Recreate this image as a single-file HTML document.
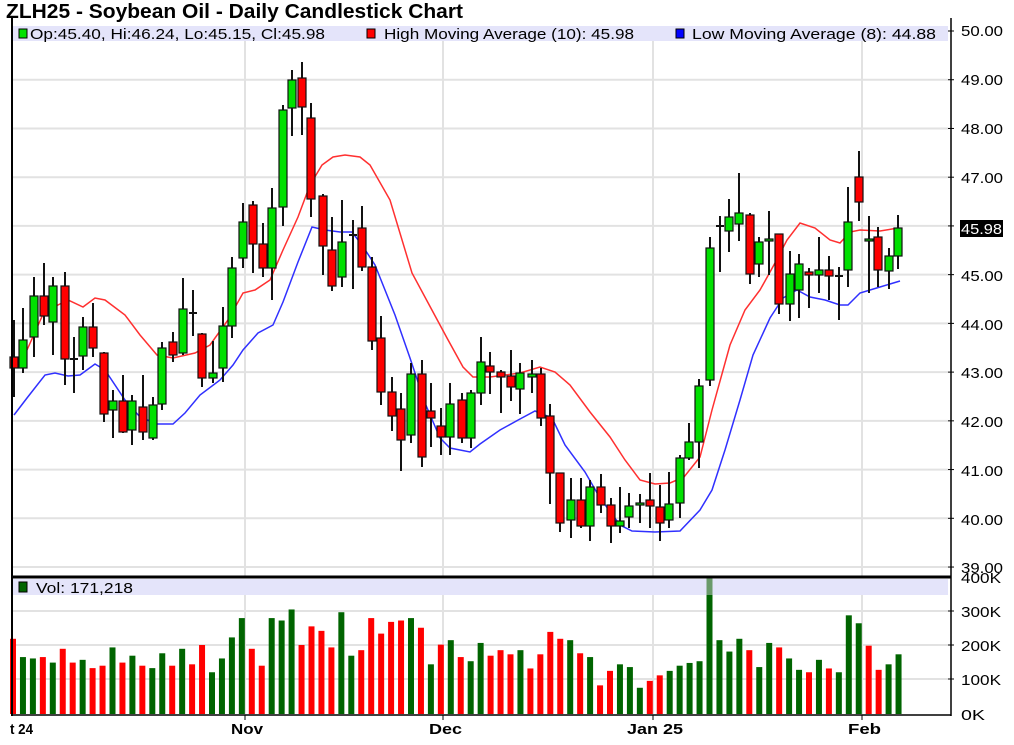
<!DOCTYPE html>
<html><head><meta charset="utf-8"><style>
html,body{margin:0;padding:0;background:#fff;width:1014px;height:745px;overflow:hidden}
svg{display:block;font-family:"Liberation Sans",sans-serif}
</style></head><body>
<svg id="s" width="1014" height="745" xmlns="http://www.w3.org/2000/svg">
<rect width="1014" height="745" fill="#fff"/>
<g id="grid" stroke="#e2e2e2" stroke-width="2"></g>
<rect x="13" y="26" width="935" height="15" fill="#e4e4fa"/>
<rect x="13" y="579" width="935" height="16" fill="#e4e4fa"/>
<g id="ma" fill="none" stroke-width="1.5"></g>
<g id="candles"></g>
<g id="vol"></g>
<line x1="12" y1="18" x2="12" y2="716" stroke="#000" stroke-width="2"/>
<line x1="951" y1="18" x2="951" y2="716" stroke="#000" stroke-width="1.5"/>
<line x1="12" y1="577" x2="951" y2="577" stroke="#000" stroke-width="3"/>
<line x1="12" y1="715" x2="951" y2="715" stroke="#000" stroke-width="1.5"/>
<g id="ticks" stroke="#000" stroke-width="1"></g>
<text x="6" y="18" font-size="20" font-weight="bold" fill="#000" textLength="457" lengthAdjust="spacingAndGlyphs">ZLH25 - Soybean Oil - Daily Candlestick Chart</text>
<rect x="19" y="29" width="8" height="9" fill="#00e000" stroke="#000"/>
<text x="30" y="39" font-size="15" fill="#000" textLength="295" lengthAdjust="spacingAndGlyphs">Op:45.40, Hi:46.24, Lo:45.15, Cl:45.98</text>
<rect x="367" y="29" width="8" height="9" fill="#ff0000" stroke="#000"/>
<text x="384" y="39" font-size="15" fill="#000" textLength="250" lengthAdjust="spacingAndGlyphs">High Moving Average (10): 45.98</text>
<rect x="676" y="29" width="8" height="9" fill="#0000ff" stroke="#000"/>
<text x="692" y="39" font-size="15" fill="#000" textLength="244" lengthAdjust="spacingAndGlyphs">Low Moving Average (8): 44.88</text>
<rect x="19" y="582" width="8" height="10" fill="#006400" stroke="#000"/>
<text x="36" y="593" font-size="15" fill="#000" textLength="97" lengthAdjust="spacingAndGlyphs">Vol: 171,218</text>
<g font-size="15" fill="#000" id="ax">
<text x="961" y="36" textLength="42" lengthAdjust="spacingAndGlyphs">50.00</text>
<text x="961" y="85" textLength="42" lengthAdjust="spacingAndGlyphs">49.00</text>
<text x="961" y="134" textLength="42" lengthAdjust="spacingAndGlyphs">48.00</text>
<text x="961" y="183" textLength="42" lengthAdjust="spacingAndGlyphs">47.00</text>
<text x="961" y="281" textLength="42" lengthAdjust="spacingAndGlyphs">45.00</text>
<text x="961" y="330" textLength="42" lengthAdjust="spacingAndGlyphs">44.00</text>
<text x="961" y="378" textLength="42" lengthAdjust="spacingAndGlyphs">43.00</text>
<text x="961" y="427" textLength="42" lengthAdjust="spacingAndGlyphs">42.00</text>
<text x="961" y="476" textLength="42" lengthAdjust="spacingAndGlyphs">41.00</text>
<text x="961" y="525" textLength="42" lengthAdjust="spacingAndGlyphs">40.00</text>
<text x="961" y="573" textLength="42" lengthAdjust="spacingAndGlyphs">39.00</text>
<text x="961" y="583" textLength="40" lengthAdjust="spacingAndGlyphs">400K</text>
<text x="961" y="617" textLength="40" lengthAdjust="spacingAndGlyphs">300K</text>
<text x="961" y="651" textLength="40" lengthAdjust="spacingAndGlyphs">200K</text>
<text x="961" y="685" textLength="40" lengthAdjust="spacingAndGlyphs">100K</text>
<text x="961" y="720" textLength="24" lengthAdjust="spacingAndGlyphs">0K</text>
</g>
<rect x="960" y="220" width="43" height="17" fill="#000"/>
<text x="961" y="234" font-size="15" fill="#fff" textLength="41" lengthAdjust="spacingAndGlyphs">45.98</text>
<g font-size="15" font-weight="bold" fill="#000">
<text x="10" y="734" textLength="23" lengthAdjust="spacingAndGlyphs">t 24</text>
<text x="231" y="734" textLength="32" lengthAdjust="spacingAndGlyphs">Nov</text>
<text x="429" y="734" textLength="33" lengthAdjust="spacingAndGlyphs">Dec</text>
<text x="627" y="734" textLength="56" lengthAdjust="spacingAndGlyphs">Jan 25</text>
<text x="848" y="734" textLength="33" lengthAdjust="spacingAndGlyphs">Feb</text>
</g>
</svg>
<script>
var NS="http://www.w3.org/2000/svg";
function el(p,t,a){var e=document.createElementNS(NS,t);for(var k in a)e.setAttribute(k,a[k]);document.getElementById(p).appendChild(e);return e;}
for(var k=0;k<=11;k++){var y=31+48.73*k;el("grid","line",{x1:13,y1:y,x2:948,y2:y});el("ticks","line",{x1:948,y1:y,x2:954,y2:y});}
[611,645,679].forEach(function(y){el("grid","line",{x1:13,y1:y,x2:948,y2:y});el("ticks","line",{x1:948,y1:y,x2:954,y2:y});});
[245,443,653,862].forEach(function(x){el("grid","line",{x1:x,y1:41,x2:x,y2:576});el("grid","line",{x1:x,y1:595,x2:x,y2:714});el("ticks","line",{x1:x,y1:715,x2:x,y2:720});});
var red=[[27,350],[44,312],[68,300],[83,307],[95,298],[105,300],[125,315],[140,335],[157,355],[173,358],[195,353],[210,345],[228,320],[243,293],[255,290],[270,280],[283,250],[298,217],[310,185],[322,165],[333,157],[345,155],[360,157],[370,165],[390,200],[412,273],[433,312],[447,338],[463,367],[473,377],[490,377],[520,373],[540,367],[555,372],[570,385],[590,412],[610,437],[625,460],[640,480],[655,484],[670,483],[684,477],[700,457],[712,410],[730,345],[745,310],[760,290],[775,263],[787,240],[800,223],[815,228],[830,240],[840,243],[850,232],[860,230],[880,231],[898,228]];
var blue=[[14,415],[27,398],[45,375],[55,373],[68,376],[80,375],[95,364],[105,370],[125,400],[140,417],[157,424],[173,424],[185,413],[200,395],[220,380],[233,365],[243,350],[258,333],[273,325],[283,302],[298,262],[312,227],[325,230],[340,232],[352,232],[362,245],[375,265],[395,315],[410,358],[425,403],[440,438],[450,448],[470,452],[480,444],[500,430],[520,419],[535,411],[552,418],[565,445],[585,472],[600,498],[620,525],[632,531],[655,532],[680,531],[700,510],[712,490],[725,450],[740,400],[753,355],[770,318],[783,298],[797,290],[810,297],[825,300],[840,305],[848,305],[860,293],[880,287],[900,281]];
el("ma","polyline",{points:red.join(" "),stroke:"#ff3030"});
el("ma","polyline",{points:blue.join(" "),stroke:"#3030ff"});
var C=[[14,357,368,320,397,"r"],[23,340,368,308,373,"g"],[34,296,337,277,357,"g"],[44,296,316,263,325,"r"],[53,286,322,277,355,"g"],[65,286,359,272,385,"r"],[74,359,360,337,393,"d"],[83,327,356,317,370,"g"],[93,327,348,303,357,"r"],[104,353,414,352,422,"r"],[113,401,410,390,438,"g"],[123,401,432,375,433,"r"],[132,401,430,395,445,"g"],[143,407,432,375,440,"r"],[153,405,438,397,440,"g"],[162,348,404,342,410,"g"],[173,342,355,332,362,"r"],[183,309,353,278,355,"g"],[193,313,314,290,336,"d"],[202,334,378,333,387,"r"],[213,373,378,341,383,"g"],[223,326,368,307,382,"g"],[232,268,326,257,338,"g"],[243,222,258,203,268,"g"],[253,205,244,201,273,"r"],[263,244,268,223,277,"r"],[272,208,268,188,300,"g"],[283,110,207,105,226,"g"],[292,80,108,70,136,"g"],[302,78,107,62,135,"r"],[311,118,199,103,217,"r"],[323,196,246,194,275,"r"],[332,250,286,217,291,"r"],[342,242,277,200,287,"g"],[353,235,236,220,289,"d"],[362,228,267,206,271,"r"],[372,267,341,257,350,"r"],[381,338,392,316,405,"r"],[392,392,416,377,431,"r"],[401,409,440,393,471,"r"],[411,374,435,363,443,"g"],[422,374,457,360,467,"r"],[431,411,418,383,447,"r"],[441,426,437,408,455,"r"],[450,404,437,383,455,"g"],[462,400,438,393,443,"r"],[471,393,438,390,448,"g"],[481,362,393,337,405,"g"],[490,366,372,352,394,"r"],[501,372,377,370,413,"r"],[511,376,387,350,401,"r"],[520,373,389,363,414,"g"],[532,374,377,360,393,"g"],[541,374,418,368,426,"r"],[550,416,473,404,504,"r"],[560,473,523,473,532,"r"],[571,500,520,478,538,"g"],[581,500,526,478,528,"r"],[590,487,526,480,541,"g"],[601,487,505,474,513,"r"],[611,505,526,498,543,"r"],[620,521,526,487,533,"g"],[629,506,517,493,528,"g"],[640,503,505,494,523,"g"],[650,500,506,473,528,"r"],[660,507,523,485,541,"r"],[669,504,520,472,528,"g"],[680,458,503,455,518,"g"],[689,442,458,423,460,"g"],[699,386,442,379,468,"g"],[710,248,380,237,386,"g"],[720,226,227,216,272,"d"],[729,217,231,199,252,"g"],[739,213,224,173,241,"g"],[750,215,274,213,284,"r"],[759,242,264,237,277,"g"],[769,239,241,211,275,"g"],[779,234,304,234,314,"r"],[790,274,304,251,321,"g"],[799,264,290,254,318,"g"],[809,272,275,268,308,"r"],[819,270,275,237,293,"g"],[829,270,276,256,300,"r"],[839,276,277,267,320,"d"],[848,222,270,187,287,"g"],[859,177,202,151,221,"r"],[869,239,240,216,293,"g"],[878,237,270,227,287,"r"],[889,256,271,248,289,"g"],[898,228,256,215,269,"g"]];
C.forEach(function(c){
 el("candles","line",{x1:c[0],y1:c[3],x2:c[0],y2:c[4],stroke:"#111","stroke-width":2});
 if(c[5]=="d"){el("candles","line",{x1:c[0]-4,y1:c[1],x2:c[0]+4,y2:c[1],stroke:"#111","stroke-width":2});}
 else el("candles","rect",{x:c[0]-4,y:c[1],width:8,height:Math.max(2,c[2]-c[1]),fill:c[5]=="g"?"#00e000":"#ff0000",stroke:"#111","stroke-width":1.2});
});
var V="218r165g161g165r149g189r149r157g133r140r193g149r169g140r133g176g140r189g144r200r121g161g222g278g189r140r278g271g303g200r254r241r193r295g169g185r278r233r267r271r278g250r144g201r214g165r153g206g169r185r173r185g132r173r238r218r214g176r165g83r125r144g136g76g96r112r125g140g148g153g392g214g181g218g185r136g206g193r161g128g121r157g132r121g286g263g198r128r144g173g";
var arr=V.match(/\d+[rg]/g);
arr.forEach(function(s,i){var v=parseInt(s),col=s.slice(-1)=="g"?"#006400":"#ff0000";var x=13+i*9.95;var h=v*0.345;
 el("vol","rect",{x:x-3,y:714-h,width:6,height:h,fill:col});
 if(v>350)el("vol","rect",{x:x-3,y:714-h,width:6,height:714-h<595?595-(714-h):0,fill:"#6a9a6a"});
});
</script>
</body></html>
